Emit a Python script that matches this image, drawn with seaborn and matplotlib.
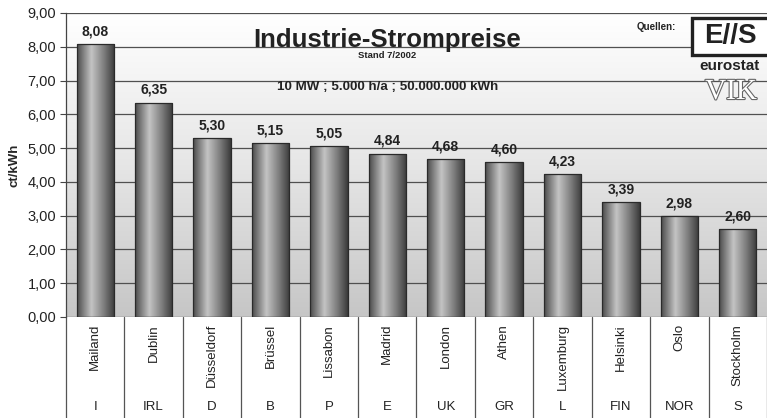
import numpy as np
import pandas as pd
import matplotlib
matplotlib.use('Agg')
import matplotlib.pyplot as plt
import matplotlib.patheffects as pe
from matplotlib.colors import LinearSegmentedColormap
from matplotlib.patches import Rectangle
import seaborn as sns

# data
cities = ['Mailand', 'Dublin', 'Düsseldorf', 'Brüssel', 'Lissabon', 'Madrid',
          'London', 'Athen', 'Luxemburg', 'Helsinki', 'Oslo', 'Stockholm']
countries = ['I', 'IRL', 'D', 'B', 'P', 'E', 'UK', 'GR', 'L', 'FIN', 'NOR', 'S']
prices = [8.08, 6.35, 5.30, 5.15, 5.05, 4.84, 4.68, 4.60, 4.23, 3.39, 2.98, 2.60]

df = pd.DataFrame({'city': cities, 'price': prices})

sns.set_style('white')
plt.rcParams['font.family'] = ['Liberation Sans', 'DejaVu Sans']

fig = plt.figure(figsize=(7.67, 4.18), dpi=100)
ax = fig.add_axes([66 / 767, 101 / 418, 701 / 767, 304 / 418])

sns.barplot(data=df, x='city', y='price', color='#888888', width=0.64,
            edgecolor='#2a2a2a', linewidth=0.9, ax=ax, zorder=3)

ax.set_ylim(0, 9)
ax.set_xlim(-0.5, len(cities) - 0.5)

# plot area gradient (white top -> grey bottom)
bg = LinearSegmentedColormap.from_list('bg', ['#c6c6c6', '#e6e6e6', '#ffffff'])
ax.imshow(np.linspace(0, 1, 256).reshape(-1, 1), cmap=bg, origin='lower',
          extent=[-0.5, len(cities) - 0.5, 0, 9], aspect='auto', zorder=0)

# cylinder shading for bars
cyl = LinearSegmentedColormap.from_list(
    'cyl', [(0, '#4a4a4a'), (0.38, '#c4c4c4'), (0.7, '#808080'), (1, '#3a3a3a')])
grad = np.linspace(0, 1, 256).reshape(1, -1)
for p in ax.patches:
    x0, y0, w, h = p.get_x(), p.get_y(), p.get_width(), p.get_height()
    im = ax.imshow(grad, cmap=cyl, extent=[x0, x0 + w, y0, y0 + h],
                   aspect='auto', zorder=3.5)
    im.set_clip_path(p)
    p.set_facecolor('none')
    p.set_zorder(4)

ax.set_xlim(-0.5, len(cities) - 0.5)
ax.set_ylim(0, 9)

ax.bar_label(ax.containers[0], labels=[f'{v:.2f}'.replace('.', ',') for v in prices],
             padding=4, fontsize=10, fontweight='bold', color='#222222')

# grid
ax.set_yticks(range(0, 10))
ax.set_yticklabels([f'{v},00' for v in range(0, 10)], fontsize=10.5, color='#222222')
for v in range(1, 10):
    ax.axhline(v, color='#505050', lw=0.9, zorder=1)
ax.tick_params(axis='y', direction='out', length=4, width=0.8, color='#444444', left=True, pad=3)

for s in ['top', 'right', 'bottom']:
    ax.spines[s].set_visible(False)
ax.spines['left'].set_color('#444444')
ax.spines['left'].set_linewidth(0.9)
ax.axhline(0, color='#444444', lw=0.9, zorder=5)

ax.set_ylabel('ct/kWh', fontsize=9.5, fontweight='bold', labelpad=5)
ax.set_xlabel('')

# two-level category axis
ax.set_xticks(range(len(cities)))
ax.set_xticklabels(cities, rotation=90, fontsize=9.5, va='top', color='#222222')
ax.tick_params(axis='x', length=0, pad=5)
trans = ax.get_xaxis_transform()
for i, c in enumerate(countries):
    ax.text(i, -0.296, c, transform=trans, ha='center', va='center',
            fontsize=9.5, color='#222222')
for b in np.arange(-0.5, len(cities)):
    ax.plot([b, b], [0, -0.34], transform=trans, color='#555555', lw=0.9, clip_on=False)

# titles
ax.text(5.0, 8.2, 'Industrie-Strompreise', ha='center', va='center',
        fontsize=18.5, fontweight='bold', color='#222222', zorder=6)
ax.text(5.0, 7.73, 'Stand 7/2002', ha='center', va='center',
        fontsize=6.8, fontweight='bold', color='#222222', zorder=6)
ax.text(5.0, 6.81, '10 MW ; 5.000 h/a ; 50.000.000 kWh', ha='center', va='center',
        fontsize=9.6, fontweight='bold', color='#222222', zorder=6)

# sources / logos
fig.text(656 / 767, 1 - 27 / 418, 'Quellen:', ha='center', va='center',
         fontsize=7, fontweight='bold', color='#222222')
fig.patches.append(Rectangle((692 / 767, 1 - 55 / 418), 80 / 767, 37 / 418,
                             transform=fig.transFigure, facecolor='white',
                             edgecolor='#222222', lw=2.4, zorder=5))
fig.text(730 / 767, 1 - 36 / 418, 'E//S', ha='center', va='center',
         fontsize=20, fontweight='bold', color='#222222', zorder=6)
fig.text(730 / 767, 1 - 66 / 418, 'eurostat', ha='center', va='center',
         fontsize=11, fontweight='bold', color='#222222', zorder=6)
fig.text(731 / 767, 1 - 92 / 418, 'VIK', ha='center', va='center',
         fontsize=21, family=['Liberation Serif', 'DejaVu Serif'], color='white',
         path_effects=[pe.withStroke(linewidth=1.6, foreground='#666666')], zorder=6)

fig.savefig('out.png', dpi=100, facecolor='white')
